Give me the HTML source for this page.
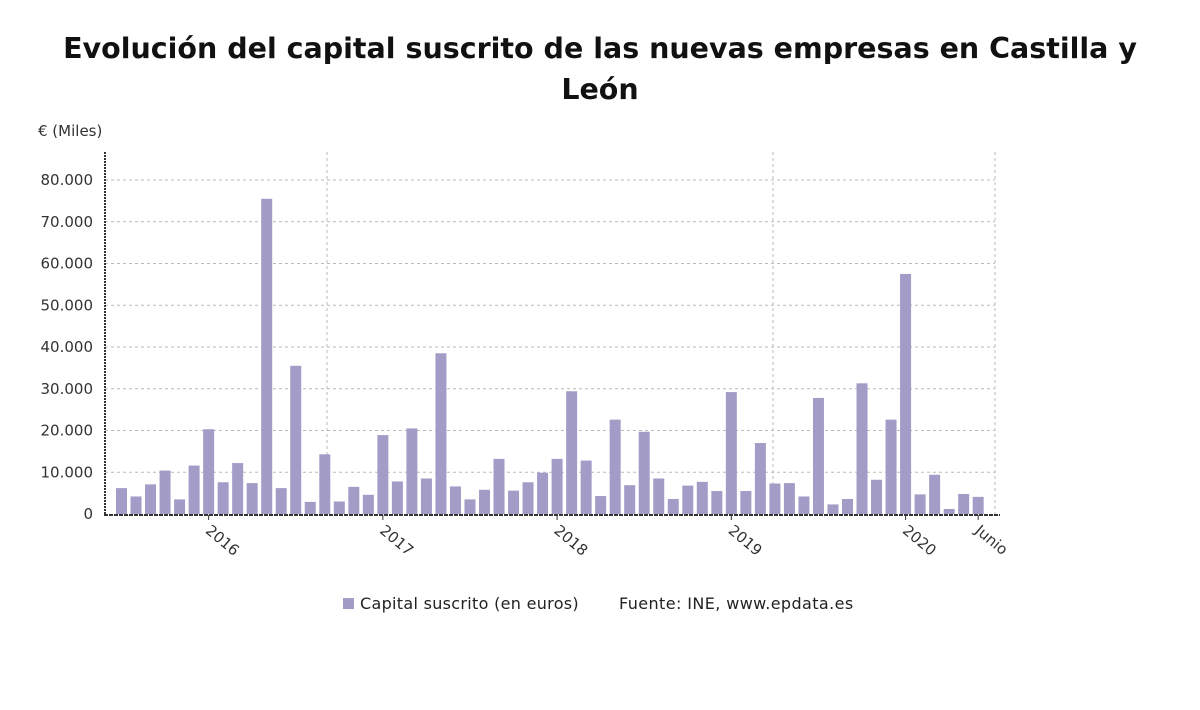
<!DOCTYPE html>
<html><head><meta charset="utf-8"><style>
body{margin:0;background:#fff;font-family:"Liberation Sans","DejaVu Sans",sans-serif;}
svg text{font-family:"DejaVu Sans","Liberation Sans",sans-serif;}
</style></head><body>
<svg id="chart" width="1200" height="705" viewBox="0 0 1200 705">
<text x="600" y="58" text-anchor="middle" font-size="28.5" font-weight="bold" fill="#111">Evolución del capital suscrito de las nuevas empresas en Castilla y</text>
<text x="600" y="99" text-anchor="middle" font-size="28.5" font-weight="bold" fill="#111">León</text>
<text x="38" y="136" font-size="15" fill="#333">€ (Miles)</text>
<g id="grid"></g><g id="bars"></g><g id="axes"></g>
<g>
<rect x="343" y="598" width="11" height="11" fill="#a29cc7"/>
<text x="360" y="609" font-size="16" letter-spacing="0.3" fill="#222">Capital suscrito (en euros)</text>
<text x="619" y="609" font-size="16" letter-spacing="0.4" fill="#222">Fuente: INE, www.epdata.es</text>
</g>
</svg>
<script>
const values=[6.2,4.2,7.1,10.4,3.5,11.6,
20.3,7.6,12.2,7.4,75.5,6.2,35.5,2.9,14.3,3.0,6.5,4.6,
18.9,7.8,20.5,8.5,38.5,6.6,3.5,5.8,13.2,5.6,7.6,9.9,
13.2,29.4,12.8,4.3,22.6,6.9,19.7,8.5,3.6,6.8,7.7,5.5,
29.2,5.5,17.0,7.3,7.4,4.2,27.8,2.3,3.6,31.3,8.2,22.6,
57.5,4.7,9.4,1.2,4.8,4.1];
const yTicks=[0,10,20,30,40,50,60,70,80];
const yTickLabels=["0","10.000","20.000","30.000","40.000","50.000","60.000","70.000","80.000"];
const xLabels=["2016","2017","2018","2019","2020","Junio"];
const xLabelIdx=[6,18,30,42,54,59];
const NS="http://www.w3.org/2000/svg";
const x0=121.5,step=14.52,y0=514,ppu=334/80;
const X=i=>x0+i*step, Y=v=>y0-v*ppu;
function mk(t,a,p){const e=document.createElementNS(NS,t);for(const k in a)e.setAttribute(k,a[k]);p.appendChild(e);return e;}
const g=document.getElementById('grid'),b=document.getElementById('bars'),ax=document.getElementById('axes');
yTicks.forEach((v,i)=>{
 if(v>0){const l=mk('line',{x1:105,x2:995,y1:Y(v),y2:Y(v),stroke:'#bbb','stroke-dasharray':'3,3'},g);
 }
 const t=mk('text',{x:93,y:Y(v)+5,'text-anchor':'end','font-size':15,fill:'#333'},ax);t.textContent=yTickLabels[i];
 
});
[327,773,995].forEach(x=>{const l=mk('line',{x1:x,x2:x,y1:152,y2:514,stroke:'#bbb','stroke-dasharray':'3,3'},g);
 });
values.forEach((v,i)=>{const r=mk('rect',{x:X(i)-5.5,y:Y(v),width:11,height:v*ppu,fill:'#a29cc7'},b);
 });
let l=mk('line',{x1:105,x2:105,y1:152,y2:515,stroke:'#333','stroke-width':2,'stroke-dasharray':'2,1'},ax);

l=mk('line',{x1:104,x2:1000,y1:515,y2:515,stroke:'#333','stroke-width':2,'stroke-dasharray':'4,1'},ax);

xLabels.forEach((s,k)=>{const x=X(xLabelIdx[k]);
 const tk=mk('line',{x1:x,x2:x,y1:515,y2:520,stroke:'#333'},ax);
 
 const t=mk('text',{x:x-4,y:532,'font-size':15,fill:'#333',transform:`rotate(40 ${x-4} 532)`},ax);t.textContent=s;
 });
</script>
</body></html>
